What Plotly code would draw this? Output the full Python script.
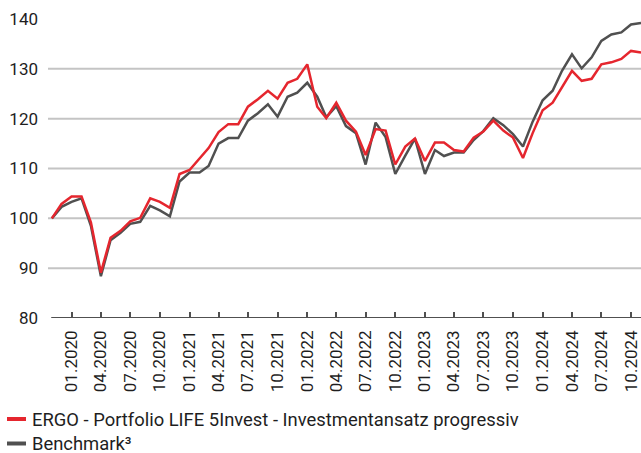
import pandas as pd
import plotly.graph_objects as go

# Monthly index values, 01.11.2019 = 100
months = pd.date_range("2019-11-01", "2024-11-01", freq="MS")

fund_values = [
    100.0, 102.9, 104.4, 104.4, 99.2, 89.1, 96.1, 97.5, 99.4, 100.1,
    104.0, 103.3, 102.1, 108.9, 109.7, 111.9, 114.1, 117.3, 118.9, 118.9,
    122.4, 123.9, 125.6, 124.0, 127.2, 128.0, 130.9, 122.4, 120.1, 123.2,
    119.6, 117.4, 112.7, 117.9, 117.6, 110.8, 114.4, 116.0, 111.5, 115.2,
    115.2, 113.7, 113.4, 116.2, 117.4, 119.6, 117.6, 116.2, 112.1, 117.1,
    121.7, 123.2, 126.3, 129.6, 127.6, 128.0, 130.9, 131.3, 132.0, 133.6,
    133.3,
]

benchmark_values = [
    100.0, 102.3, 103.3, 104.0, 98.5, 88.4, 95.6, 97.1, 98.9, 99.3,
    102.5, 101.6, 100.4, 107.4, 109.2, 109.2, 110.5, 115.0, 116.1, 116.1,
    119.6, 121.1, 122.9, 120.4, 124.4, 125.2, 127.2, 124.4, 120.3, 122.5,
    118.5, 117.1, 110.8, 119.2, 116.3, 108.9, 112.6, 116.0, 108.9, 113.7,
    112.5, 113.2, 113.2, 115.7, 117.5, 120.1, 118.7, 116.9, 114.4, 119.4,
    123.7, 125.6, 129.6, 132.9, 130.1, 132.3, 135.6, 136.9, 137.3, 138.9,
    139.2,
]

x_tick_labels = [
    "01.2020", "04.2020", "07.2020", "10.2020",
    "01.2021", "04.2021", "07.2021", "10.2021",
    "01.2022", "04.2022", "07.2022", "10.2022",
    "01.2023", "04.2023", "07.2023", "10.2023",
    "01.2024", "04.2024", "07.2024", "10.2024",
]
y_ticks = [80, 90, 100, 110, 120, 130, 140]
grid_levels = [90, 100, 110, 120, 130]

series_names = [
    "ERGO - Portfolio LIFE 5Invest - Investmentansatz progressiv",
    "Benchmark³",
]

RED = "#e5262e"
DARK = "#505050"
GRID = "#c4c4c4"
TEXT = "#1e1e1e"
FONT = "Roboto, 'Noto Sans', sans-serif"

tick_dates = [f"{lbl[3:]}-{lbl[:2]}-01" for lbl in x_tick_labels]

W, H = 641, 453
M_L, M_R, M_T, M_B = 48, 0, 19, 135
plot_w = W - M_L - M_R
plot_h = H - M_T - M_B


def px_x(px):
    return (px - M_L) / plot_w


def px_y(py):
    return (H - M_B - py) / plot_h


fig = go.Figure()
fig.add_trace(go.Scatter(
    x=months, y=benchmark_values, mode="lines", name=series_names[1],
    line=dict(color=DARK, width=2.5), showlegend=False,
))
fig.add_trace(go.Scatter(
    x=months, y=fund_values, mode="lines", name=series_names[0],
    line=dict(color=RED, width=2.5), showlegend=False,
))

shapes = []
for lvl in grid_levels:
    shapes.append(dict(type="line", xref="paper", yref="y", x0=0, x1=1,
                       y0=lvl, y1=lvl, line=dict(color=GRID, width=2),
                       layer="below"))
# baseline
shapes.append(dict(type="line", xref="x", yref="y", x0="2019-10-30",
                   x1="2024-11-01", y0=80, y1=80,
                   line=dict(color=DARK, width=2), layer="above"))

# legend drawn beneath the axis
legend_rows = [(series_names[0], RED, 419), (series_names[1], DARK, 443.5)]
annotations = []
for name, col, py in legend_rows:
    shapes.append(dict(type="line", xref="paper", yref="paper",
                       x0=px_x(7), x1=px_x(26), y0=px_y(py), y1=px_y(py),
                       line=dict(color=col, width=4)))
    annotations.append(dict(xref="paper", yref="paper", x=px_x(30),
                            y=px_y(py), text=name, showarrow=False,
                            xanchor="left", yanchor="middle",
                            font=dict(family=FONT, size=18.4, color=TEXT)))

fig.update_layout(
    width=W, height=H,
    margin=dict(l=M_L, r=M_R, t=M_T, b=M_B, pad=0),
    paper_bgcolor="white", plot_bgcolor="white",
    showlegend=False,
    shapes=shapes, annotations=annotations,
    font=dict(family=FONT, size=17, color=TEXT),
)
fig.update_xaxes(
    type="date", range=["2019-10-20", "2024-11-01"],
    tickvals=tick_dates, ticktext=x_tick_labels, tickangle=-90,
    ticks="inside", ticklen=6, tickwidth=2, tickcolor=DARK,
    showgrid=False, showline=False, zeroline=False,
    ticklabelstandoff=8,
    tickfont=dict(family=FONT, size=17, color=TEXT),
)
fig.update_yaxes(
    range=[80, 140], tickvals=y_ticks,
    showgrid=False, showline=False, zeroline=False, ticks="",
    ticklabelstandoff=9,
    tickfont=dict(family=FONT, size=17, color=TEXT),
)

fig.write_html("out.html")
